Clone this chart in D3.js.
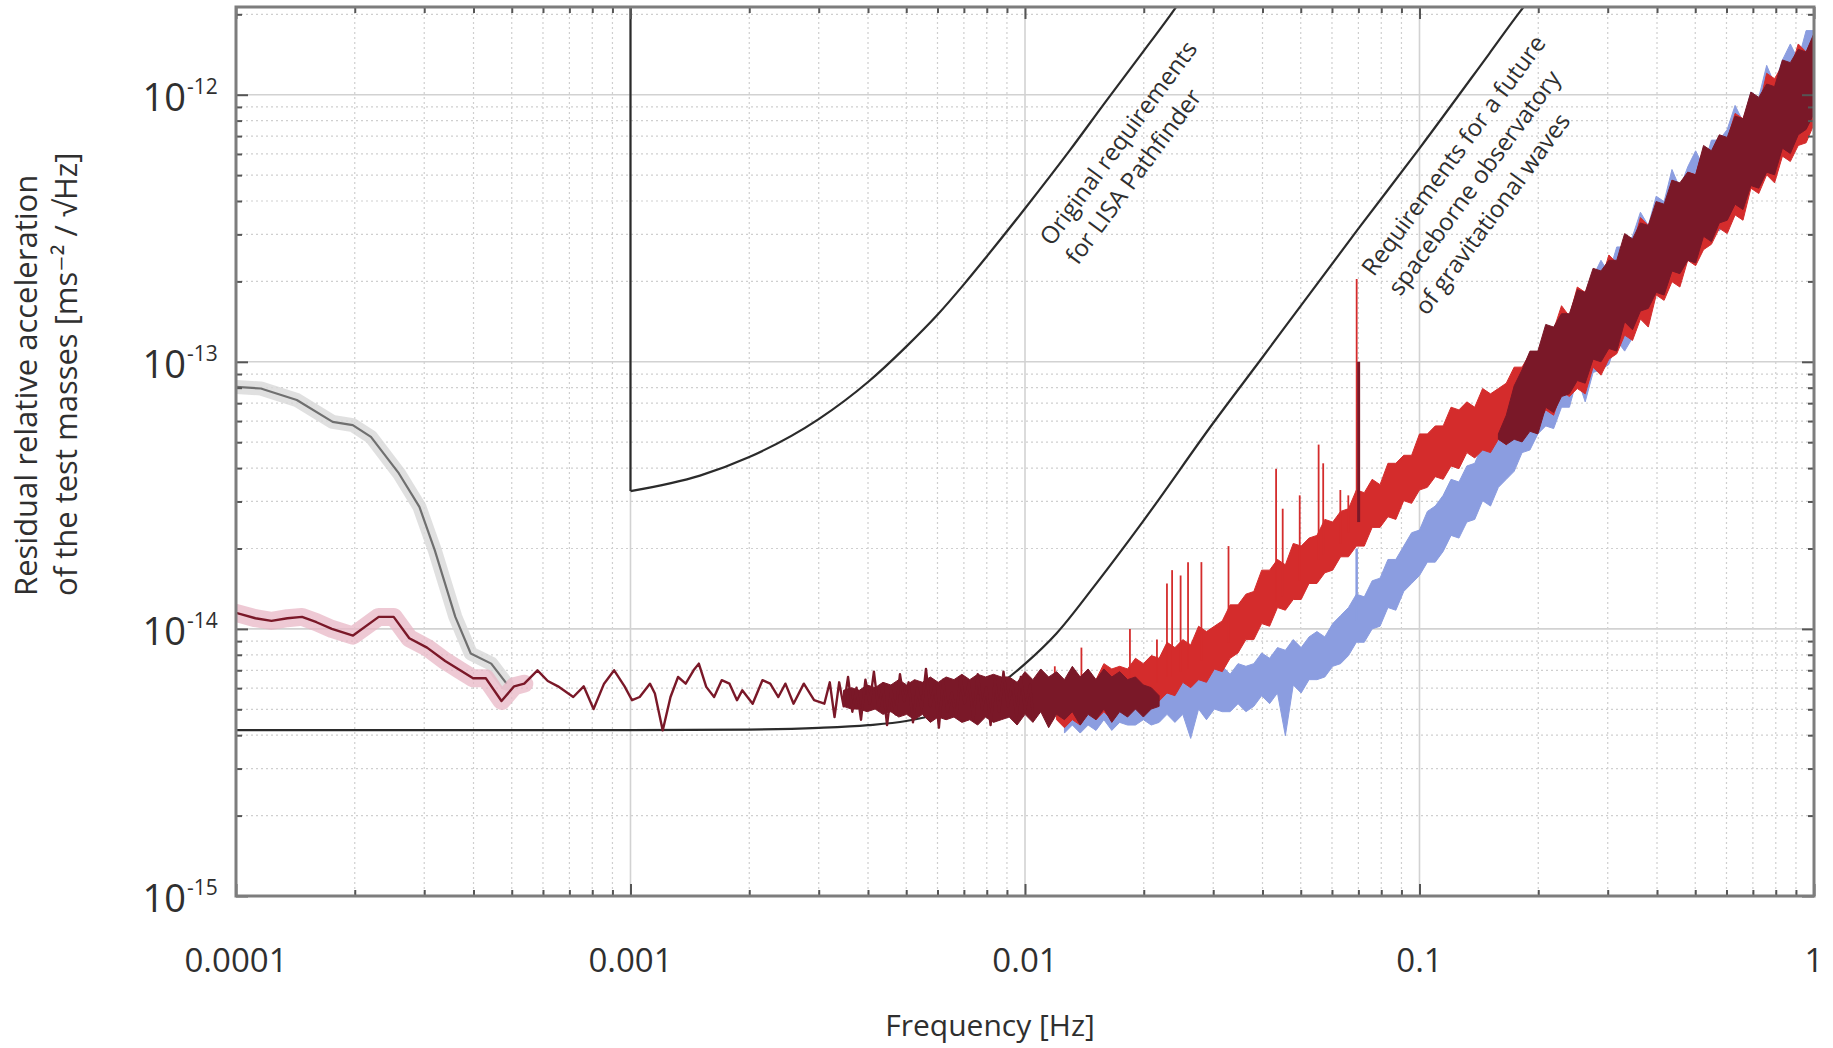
<!DOCTYPE html>
<html><head><meta charset="utf-8">
<script src="https://cdn.jsdelivr.net/npm/d3@7"></script>
<style>
html,body{margin:0;padding:0;background:#fff;}
svg{display:block;font-family:"Open Sans","DejaVu Sans",sans-serif;}
</style></head><body>
<svg id="chart" width="1833" height="1048"></svg>
<script>
// ---------------- DATA ----------------
const xDomain = [1e-4, 1];
const yDomain = [1e-15, 2.13e-12];
const xTickValues = [1e-4, 1e-3, 1e-2, 1e-1, 1];
const xTickLabels = ["0.0001", "0.001", "0.01", "0.1", "1"];
const yTickValues = [1e-15, 1e-14, 1e-13, 1e-12];
const yTickExponents = ["-15", "-14", "-13", "-12"];
const xTitle = "Frequency [Hz]";
const yTitleLines = ["Residual relative acceleration", "of the test masses [ms\u207B\u00B2 / \u221AHz]"];

// requirement curves [frequency Hz, acceleration]
const lpfVertical = [[1e-3, 2.13e-12], [1e-3, 3.28e-14]];
const lpfRequirement = [[1e-3, 3.28e-14], [1.5e-3, 3.75e-14], [2e-3, 4.4e-14], [3e-3, 6.1e-14], [4e-3, 8.4e-14],
  [5e-3, 1.14e-13], [6e-3, 1.5e-13], [7e-3, 1.95e-13], [8e-3, 2.48e-13], [1e-2, 3.75e-13], [1.3e-2, 6.2e-13],
  [1.6e-2, 9.4e-13], [2e-2, 1.46e-12], [2.4e-2, 2.1e-12], [2.6e-2, 2.5e-12]];
const lisaRequirement = [[1e-4, 4.18e-15], [1e-3, 4.18e-15], [2e-3, 4.2e-15], [3e-3, 4.26e-15], [4e-3, 4.36e-15],
  [5e-3, 4.52e-15], [6e-3, 4.8e-15], [7e-3, 5.25e-15], [8e-3, 5.8e-15], [9e-3, 6.5e-15], [1e-2, 7.4e-15],
  [1.2e-2, 9.6e-15], [1.5e-2, 1.45e-14], [2e-2, 2.55e-14], [3e-2, 5.9e-14], [4e-2, 1.04e-13], [5e-2, 1.62e-13],
  [7e-2, 3.15e-13], [1e-1, 6.3e-13], [1.5e-1, 1.42e-12], [1.8e-1, 2.05e-12], [2e-1, 2.5e-12]];

// grey trace (early data) [Hz, log10 acceleration]
const greyTraceLog10 = [[1.0e-4, -13.094], [1.156e-4, -13.10], [1.426e-4, -13.143], [1.758e-4, -13.225],
  [1.977e-4, -13.237], [2.198e-4, -13.281], [2.588e-4, -13.418], [2.917e-4, -13.543], [3.19e-4, -13.705],
  [3.597e-4, -13.955], [3.936e-4, -14.092], [4.436e-4, -14.13], [4.853e-4, -14.205]];

// dark red trace, low frequencies [Hz, log10 acceleration]
const maroonTraceLog10 = [[1.0e-4, -13.94], [1.12e-4, -13.96], [1.23e-4, -13.97], [1.35e-4, -13.96], [1.47e-4, -13.955],
  [1.60e-4, -13.975], [1.75e-4, -14.0], [1.98e-4, -14.025], [2.30e-4, -13.955], [2.51e-4, -13.955], [2.75e-4, -14.035],
  [3.05e-4, -14.07], [3.39e-4, -14.12], [3.70e-4, -14.155], [3.99e-4, -14.185], [4.30e-4, -14.185], [4.71e-4, -14.27],
  [5.07e-4, -14.215], [5.38e-4, -14.205], [5.81e-4, -14.155], [6.17e-4, -14.195], [6.55e-4, -14.215], [7.16e-4, -14.255],
  [7.61e-4, -14.215], [8.06e-4, -14.30], [8.57e-4, -14.205], [9.09e-4, -14.155], [9.66e-4, -14.215], [1.009e-3, -14.267],
  [1.055e-3, -14.255], [1.12e-3, -14.205], [1.153e-3, -14.242], [1.207e-3, -14.38], [1.263e-3, -14.255], [1.32e-3, -14.18],
  [1.38e-3, -14.205], [1.445e-3, -14.155], [1.49e-3, -14.13], [1.556e-3, -14.217], [1.629e-3, -14.255], [1.703e-3, -14.192],
  [1.782e-3, -14.205], [1.862e-3, -14.267], [1.92e-3, -14.23], [2.04e-3, -14.28], [2.16e-3, -14.192], [2.26e-3, -14.205],
  [2.37e-3, -14.255], [2.47e-3, -14.205], [2.59e-3, -14.28], [2.75e-3, -14.205], [2.92e-3, -14.267], [3.10e-3, -14.28],
  [3.20e-3, -14.20], [3.29e-3, -14.33], [3.38e-3, -14.20], [3.47e-3, -14.29], [3.56e-3, -14.18], [3.65e-3, -14.31],
  [3.74e-3, -14.22], [3.84e-3, -14.34], [3.94e-3, -14.19], [4.04e-3, -14.28], [4.14e-3, -14.16], [4.25e-3, -14.30],
  [4.36e-3, -14.21], [4.47e-3, -14.36], [4.58e-3, -14.23], [4.70e-3, -14.32], [4.82e-3, -14.17], [4.94e-3, -14.27],
  [5.07e-3, -14.20], [5.20e-3, -14.35], [5.33e-3, -14.22], [5.47e-3, -14.30], [5.61e-3, -14.15], [5.75e-3, -14.29],
  [5.90e-3, -14.21], [6.05e-3, -14.37], [6.20e-3, -14.19], [6.36e-3, -14.31], [6.52e-3, -14.24], [6.69e-3, -14.33],
  [6.86e-3, -14.18], [7.03e-3, -14.28], [7.21e-3, -14.20], [7.40e-3, -14.34], [7.59e-3, -14.17], [7.78e-3, -14.30],
  [7.98e-3, -14.22], [8.18e-3, -14.36], [8.39e-3, -14.19], [8.60e-3, -14.31], [8.82e-3, -14.16], [9.05e-3, -14.29],
  [9.28e-3, -14.20], [9.52e-3, -14.33], [9.76e-3, -14.18], [1.00e-2, -14.30], [1.03e-2, -14.21], [1.05e-2, -14.34]];
const uncertaintyBandMaxHz = 5.6e-4;

// dense spectra stored as upper / lower envelopes on a log-frequency grid (log10 Hz start, decades per step)
const maroonLowBandLog10F0 = -2.46, maroonLowBandStep = 0.02;
const maroonLowUpperLog10 = [-14.23, -14.22, -14.23, -14.21, -14.22, -14.20, -14.21, -14.19, -14.21, -14.19,
  -14.20, -14.18, -14.20, -14.18, -14.19, -14.17, -14.19, -14.17, -14.18, -14.17, -14.18,
  -14.18, -14.20, -14.16, -14.19, -14.15, -14.18, -14.16, -14.19, -14.14, -14.18,
  -14.15, -14.19, -14.15, -14.18, -14.16, -14.19, -14.18, -14.21, -14.22, -14.25];
const maroonLowLowerLog10 = [-14.29, -14.30, -14.30, -14.31, -14.30, -14.32, -14.31, -14.33, -14.32, -14.34,
  -14.32, -14.35, -14.33, -14.34, -14.33, -14.35, -14.34, -14.36, -14.33, -14.35, -14.34,
  -14.33, -14.36, -14.32, -14.35, -14.31, -14.37, -14.32, -14.34, -14.31, -14.36,
  -14.32, -14.34, -14.30, -14.35, -14.31, -14.33, -14.30, -14.33, -14.30, -14.29];

const maroonHighBandLog10F0 = -0.8, maroonHighBandStep = 0.02;
const maroonHighUpperLog10 = [-13.27, -13.20, -13.09, -13.03, -12.96, -12.96, -12.86, -12.87, -12.82, -12.82,
  -12.73, -12.74, -12.65, -12.66, -12.62, -12.62, -12.52, -12.54, -12.48, -12.49,
  -12.40, -12.41, -12.32, -12.33, -12.29, -12.30, -12.19, -12.21, -12.15, -12.16,
  -12.08, -12.09, -11.99, -12.01, -11.96, -11.97, -11.87, -11.88, -11.83, -11.84, -11.77];
const maroonHighLowerLog10 = [-13.29, -13.31, -13.29, -13.30, -13.26, -13.27, -13.17, -13.19, -13.13, -13.12,
  -13.07, -13.08, -12.99, -13.00, -12.95, -12.96, -12.85, -12.88, -12.81, -12.80,
  -12.74, -12.75, -12.66, -12.67, -12.62, -12.63, -12.53, -12.55, -12.48, -12.47,
  -12.41, -12.43, -12.34, -12.35, -12.29, -12.30, -12.20, -12.22, -12.15, -12.13, -12.07];

const redBandLog10F0 = -1.92, redBandStep = 0.02;
const redUpperLog10 = [-14.19, -14.20, -14.16, -14.18, -14.16, -14.19, -14.13, -14.15, -14.14, -14.15,
  -14.11, -14.13, -14.10, -14.11, -14.05, -14.07, -14.04, -14.06, -13.99, -14.01,
  -13.99, -13.97, -13.91, -13.91, -13.87, -13.86, -13.78, -13.78, -13.74, -13.76,
  -13.68, -13.69, -13.66, -13.65, -13.59, -13.60, -13.56, -13.55, -13.48, -13.49,
  -13.44, -13.46, -13.38, -13.38, -13.35, -13.35, -13.27, -13.27, -13.24, -13.24,
  -13.17, -13.18, -13.15, -13.17, -13.10, -13.12, -13.10, -13.08, -13.02, -13.02,
  -12.97, -12.98, -12.87, -12.88, -12.79, -12.83, -12.72, -12.74, -12.69, -12.70,
  -12.60, -12.63, -12.57, -12.57, -12.46, -12.49, -12.42, -12.45, -12.32, -12.34,
  -12.29, -12.30, -12.20, -12.22, -12.16, -12.17, -12.07, -12.09, -12.02, -12.05,
  -11.92, -11.94, -11.89, -11.91, -11.81, -11.84, -11.78];
const redLowerLog10 = [-14.34, -14.37, -14.34, -14.36, -14.31, -14.34, -14.31, -14.34, -14.29, -14.31,
  -14.29, -14.29, -14.26, -14.27, -14.24, -14.25, -14.20, -14.22, -14.19, -14.20,
  -14.15, -14.16, -14.11, -14.09, -14.04, -14.04, -13.98, -13.99, -13.92, -13.93,
  -13.89, -13.89, -13.83, -13.83, -13.79, -13.78, -13.73, -13.73, -13.69, -13.69,
  -13.62, -13.62, -13.58, -13.59, -13.52, -13.53, -13.48, -13.47, -13.43, -13.44,
  -13.39, -13.40, -13.34, -13.36, -13.33, -13.34, -13.29, -13.31, -13.26, -13.24,
  -13.20, -13.23, -13.18, -13.20, -13.11, -13.13, -13.10, -13.12, -13.02, -13.05,
  -12.99, -12.97, -12.90, -12.92, -12.84, -12.87, -12.75, -12.77, -12.70, -12.72,
  -12.62, -12.64, -12.58, -12.56, -12.50, -12.52, -12.45, -12.47, -12.35, -12.37,
  -12.30, -12.33, -12.23, -12.25, -12.19, -12.18, -12.11];

const blueBandLog10F0 = -1.9, blueBandStep = 0.02;
const blueUpperLog10 = [-14.23, -14.20, -14.24, -14.20, -14.22, -14.18, -14.22, -14.20, -14.19, -14.22,
  -14.19, -14.20, -14.19, -14.16, -14.20, -14.16, -14.18, -14.14, -14.18, -14.15,
  -14.14, -14.17, -14.13, -14.14, -14.13, -14.09, -14.11, -14.07, -14.08, -14.04,
  -14.07, -14.03, -14.01, -14.03, -13.98, -13.95, -13.92, -13.87, -13.88, -13.82,
  -13.81, -13.74, -13.74, -13.69, -13.64, -13.63, -13.56, -13.54, -13.50, -13.44,
  -13.45, -13.39, -13.38, -13.31, -13.33, -13.28, -13.22, -13.22, -13.14, -13.11,
  -13.06, -12.98, -12.99, -12.89, -12.88, -12.76, -12.76, -12.68, -12.62, -12.67,
  -12.57, -12.57, -12.53, -12.44, -12.49, -12.38, -12.40, -12.28, -12.35, -12.27,
  -12.21, -12.27, -12.17, -12.17, -12.13, -12.04, -12.10, -11.99, -12.01, -11.89,
  -11.96, -11.87, -11.81, -11.87, -11.76, -11.76];
const blueLowerLog10 = [-14.39, -14.36, -14.39, -14.36, -14.38, -14.34, -14.38, -14.35, -14.36, -14.36,
  -14.34, -14.36, -14.35, -14.32, -14.35, -14.32, -14.41, -14.30, -14.34, -14.30,
  -14.31, -14.31, -14.28, -14.31, -14.29, -14.25, -14.28, -14.24, -14.40, -14.21,
  -14.24, -14.19, -14.19, -14.18, -14.14, -14.13, -14.10, -14.05, -14.05, -14.00,
  -13.99, -13.92, -13.93, -13.86, -13.83, -13.80, -13.75, -13.75, -13.71, -13.65,
  -13.66, -13.60, -13.59, -13.52, -13.54, -13.47, -13.44, -13.41, -13.34, -13.33,
  -13.27, -13.24, -13.25, -13.17, -13.17, -13.06, -13.15, -13.04, -13.03, -13.01,
  -12.92, -12.96, -12.91, -12.81, -12.86, -12.73, -12.74, -12.63, -12.69, -12.59,
  -12.58, -12.57, -12.49, -12.51, -12.47, -12.37, -12.40, -12.32, -12.32, -12.23,
  -12.27, -12.18, -12.16, -12.14, -12.06, -12.07];

// narrow spectral lines [Hz, log10 base, log10 peak]
const redSpikesLog10 = [[0.0119, -14.25, -14.14], [0.0139, -14.25, -14.07], [0.01845, -14.22, -14.00], [0.0216, -14.2, -14.04],
  [0.0229, -14.18, -13.83], [0.0236, -14.18, -13.78], [0.0248, -14.16, -13.80], [0.0259, -14.15, -13.75], [0.028, -14.12, -13.75],
  [0.0328, -14.05, -13.69], [0.0433, -13.9, -13.40], [0.045, -13.88, -13.55], [0.0497, -13.82, -13.50], [0.0555, -13.74, -13.31],
  [0.057, -13.72, -13.38], [0.063, -13.68, -13.48], [0.066, -13.64, -13.50], [0.0693, -13.6, -12.69]];
const maroonSpikesLog10 = [[0.0701, -13.6, -13.0]];
const blueSpikesLog10 = [[0.0693, -13.97, -13.70]];

// annotations: text lines and their anchor [Hz, acceleration]
const lpfLabelLines = ["Original requirements", "for LISA Pathfinder"];
const lpfLabelAnchor = [0.0117, 2.69e-13];
const lisaLabelLines = ["Requirements for a future", "spaceborne observatory", "of gravitational waves"];
const lisaLabelAnchor = [0.0766, 2.07e-13];

// ---------------- DRAWING ----------------
const svg = d3.select("#chart");
const plot = {left: 236, right: 1814, top: 7, bottom: 896};
const x = d3.scaleLog().domain(xDomain).range([plot.left, plot.right]);
const y = d3.scaleLog().domain(yDomain).range([plot.bottom, plot.top]);
const P = v => Math.pow(10, v);

svg.append("defs").append("clipPath").attr("id", "clip")
  .append("rect").attr("x", plot.left).attr("y", plot.top)
  .attr("width", plot.right - plot.left).attr("height", plot.bottom - plot.top);

const isMajor = (v, arr) => arr.some(m => Math.abs(m - v) / m < 1e-9);
const xMinor = x.ticks().filter(v => !isMajor(v, xTickValues));
const yMinor = y.ticks().filter(v => !isMajor(v, yTickValues) && v <= yDomain[1]);

// grid
const grid = svg.append("g");
grid.selectAll(".gxm").data(xMinor).join("line")
  .attr("x1", d => x(d)).attr("x2", d => x(d)).attr("y1", plot.top).attr("y2", plot.bottom)
  .attr("stroke", "#cfcfcf").attr("stroke-width", 1.2).attr("stroke-dasharray", "2,3");
grid.selectAll(".gym").data(yMinor).join("line")
  .attr("y1", d => y(d)).attr("y2", d => y(d)).attr("x1", plot.left).attr("x2", plot.right)
  .attr("stroke", "#cfcfcf").attr("stroke-width", 1.2).attr("stroke-dasharray", "2,3");
grid.selectAll(".gxM").data(xTickValues).join("line")
  .attr("x1", d => x(d)).attr("x2", d => x(d)).attr("y1", plot.top).attr("y2", plot.bottom)
  .attr("stroke", "#d2d2d2").attr("stroke-width", 1.6);
grid.selectAll(".gyM").data(yTickValues).join("line")
  .attr("y1", d => y(d)).attr("y2", d => y(d)).attr("x1", plot.left).attr("x2", plot.right)
  .attr("stroke", "#d2d2d2").attr("stroke-width", 1.6);

const plotG = svg.append("g").attr("clip-path", "url(#clip)");

// requirement curves
const reqLine = d3.line().x(d => x(d[0])).y(d => y(d[1])).curve(d3.curveMonotoneX);
plotG.append("path").attr("d", d3.line().x(d => x(d[0])).y(d => y(d[1]))(lpfVertical))
  .attr("fill", "none").attr("stroke", "#2b2b2b").attr("stroke-width", 2.2);
plotG.append("path").attr("d", reqLine(lpfRequirement))
  .attr("fill", "none").attr("stroke", "#2b2b2b").attr("stroke-width", 2.2);
plotG.append("path").attr("d", reqLine(lisaRequirement))
  .attr("fill", "none").attr("stroke", "#2b2b2b").attr("stroke-width", 2.2);

const logLine = d3.line().x(d => x(d[0])).y(d => y(P(d[1])));

// grey trace with band
plotG.append("path").attr("d", logLine(greyTraceLog10)).attr("fill", "none")
  .attr("stroke", "#d8d8d8").attr("stroke-width", 14).attr("stroke-linejoin", "round").attr("stroke-linecap", "round").attr("opacity", 0.8);
plotG.append("path").attr("d", logLine(greyTraceLog10)).attr("fill", "none")
  .attr("stroke", "#6f6f6f").attr("stroke-width", 2.2).attr("stroke-linejoin", "round");

// pink uncertainty band on early dark red trace
plotG.append("path").attr("d", logLine(maroonTraceLog10.filter(d => d[0] <= uncertaintyBandMaxHz))).attr("fill", "none")
  .attr("stroke", "#e8b7c6").attr("stroke-width", 18).attr("stroke-linejoin", "round").attr("stroke-linecap", "round").attr("opacity", 0.75);

function bandData(f0, step, upper, lower) {
  return upper.map((u, i) => ({f: P(f0 + step * i), hi: P(u), lo: P(lower[i])}));
}
const bandArea = d3.area().x(d => x(d.f)).y0(d => y(d.lo)).y1(d => y(d.hi));
const spikeLine = (g, data, color, w) => g.selectAll(null).data(data).join("line")
  .attr("x1", d => x(d[0])).attr("x2", d => x(d[0])).attr("y1", d => y(P(d[1]))).attr("y2", d => y(P(d[2])))
  .attr("stroke", color).attr("stroke-width", w);

const cBlue = "#8b9de0", cRed = "#d42c2c", cMaroon = "#7a1828";

// blue
plotG.append("path").attr("d", bandArea(bandData(blueBandLog10F0, blueBandStep, blueUpperLog10, blueLowerLog10)))
  .attr("fill", cBlue).attr("stroke", cBlue).attr("stroke-width", 1).attr("stroke-linejoin", "round");
spikeLine(plotG, blueSpikesLog10, cBlue, 2.5);
// red
plotG.append("path").attr("d", bandArea(bandData(redBandLog10F0, redBandStep, redUpperLog10, redLowerLog10)))
  .attr("fill", cRed).attr("stroke", cRed).attr("stroke-width", 1).attr("stroke-linejoin", "round");
spikeLine(plotG, redSpikesLog10, cRed, 1.8);
// dark red
plotG.append("path").attr("d", bandArea(bandData(maroonLowBandLog10F0, maroonLowBandStep, maroonLowUpperLog10, maroonLowLowerLog10)))
  .attr("fill", cMaroon).attr("stroke", cMaroon).attr("stroke-width", 1).attr("stroke-linejoin", "round");
plotG.append("path").attr("d", logLine(maroonTraceLog10)).attr("fill", "none")
  .attr("stroke", cMaroon).attr("stroke-width", 2.4).attr("stroke-linejoin", "round");
plotG.append("path").attr("d", bandArea(bandData(maroonHighBandLog10F0, maroonHighBandStep, maroonHighUpperLog10, maroonHighLowerLog10)))
  .attr("fill", cMaroon).attr("stroke", cMaroon).attr("stroke-width", 1).attr("stroke-linejoin", "round");
spikeLine(plotG, maroonSpikesLog10, cMaroon, 3);

// axes ticks (inward on all four sides)
const tickStyle = g => { g.select(".domain").remove(); g.selectAll("line").attr("stroke", "#555").attr("stroke-width", 2); g.selectAll("text").remove(); };
svg.append("g").attr("transform", `translate(0,${plot.bottom})`).call(d3.axisBottom(x).tickValues(xTickValues).tickSizeInner(-12).tickSizeOuter(0)).call(tickStyle);
svg.append("g").attr("transform", `translate(0,${plot.bottom})`).call(d3.axisBottom(x).tickValues(xMinor).tickSizeInner(-6).tickSizeOuter(0)).call(tickStyle);
svg.append("g").attr("transform", `translate(0,${plot.top})`).call(d3.axisTop(x).tickValues(xTickValues).tickSizeInner(-12).tickSizeOuter(0)).call(tickStyle);
svg.append("g").attr("transform", `translate(0,${plot.top})`).call(d3.axisTop(x).tickValues(xMinor).tickSizeInner(-6).tickSizeOuter(0)).call(tickStyle);
svg.append("g").attr("transform", `translate(${plot.left},0)`).call(d3.axisLeft(y).tickValues(yTickValues).tickSizeInner(-12).tickSizeOuter(0)).call(tickStyle);
svg.append("g").attr("transform", `translate(${plot.left},0)`).call(d3.axisLeft(y).tickValues(yMinor).tickSizeInner(-6).tickSizeOuter(0)).call(tickStyle);
svg.append("g").attr("transform", `translate(${plot.right},0)`).call(d3.axisRight(y).tickValues(yTickValues).tickSizeInner(-12).tickSizeOuter(0)).call(tickStyle);
svg.append("g").attr("transform", `translate(${plot.right},0)`).call(d3.axisRight(y).tickValues(yMinor).tickSizeInner(-6).tickSizeOuter(0)).call(tickStyle);

// frame
svg.append("rect").attr("x", plot.left).attr("y", plot.top).attr("width", plot.right - plot.left).attr("height", plot.bottom - plot.top)
  .attr("fill", "none").attr("stroke", "#7d7d7d").attr("stroke-width", 3);

const textColor = "#2f2f2f";
// x tick labels
svg.selectAll(".xl").data(xTickValues).join("text")
  .attr("x", d => x(d)).attr("y", 972).attr("text-anchor", "middle")
  .attr("font-size", 33).attr("fill", textColor).text((d, i) => xTickLabels[i]);
// y tick labels 10^n
svg.selectAll(".yl").data(yTickValues).join("text")
  .attr("x", 186).attr("y", d => y(d) + 16).attr("text-anchor", "end")
  .attr("font-size", 38).attr("fill", textColor).text("10");
svg.selectAll(".ye").data(yTickValues).join("text")
  .attr("x", 187).attr("y", d => y(d) - 1).attr("text-anchor", "start")
  .attr("font-size", 21).attr("fill", textColor).text((d, i) => yTickExponents[i]);

// axis titles
svg.append("text").attr("x", 990).attr("y", 1036).attr("text-anchor", "middle")
  .attr("font-size", 30).attr("fill", textColor).text(xTitle);
const yT = svg.append("text").attr("transform", "translate(37,596) rotate(-90)")
  .attr("font-size", 31).attr("fill", textColor);
yT.append("tspan").attr("x", 0).attr("y", 0).text(yTitleLines[0]);
yT.append("tspan").attr("x", 0).attr("y", 40).text(yTitleLines[1]);

// annotations rotated along the f^2 slope
const decX = x(1) - x(0.1), decY = y(1e-13) - y(1e-12);
const angle = -Math.atan2(2 * decY, decX) * 180 / Math.PI;
function annotate(lines, anchor, gap) {
  const t = svg.append("text")
    .attr("transform", `translate(${x(anchor[0])},${y(anchor[1])}) rotate(${angle})`)
    .attr("font-size", 24).attr("fill", textColor);
  lines.forEach((s, i) => t.append("tspan").attr("x", 0).attr("y", i * gap).text(s));
}
annotate(lpfLabelLines, lpfLabelAnchor, 32);
annotate(lisaLabelLines, lisaLabelAnchor, 33);
</script>
</body></html>
